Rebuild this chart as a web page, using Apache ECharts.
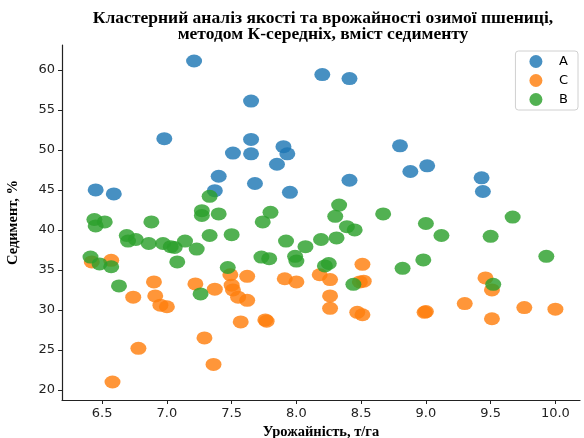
<!DOCTYPE html>
<html>
<head>
<meta charset="utf-8">
<script src="https://cdn.jsdelivr.net/npm/echarts@6/dist/echarts.min.js"></script>
<style>
  html, body { margin: 0; padding: 0; background: #fff; }
  #chart { width: 584px; height: 438px; }
</style>
</head>
<body>
<div id="chart"></div>
<script>
// cluster A (yield t/ha, sediment %)
var clusterA = [
  [7.21, 61.1], [8.20, 59.4], [8.41, 58.9], [7.65, 56.1], [6.98, 51.4],
  [7.65, 51.3], [7.51, 49.6], [7.65, 49.5], [7.90, 50.4], [7.93, 49.5],
  [7.85, 48.2], [7.40, 46.7], [7.68, 45.8], [6.45, 45.0], [6.59, 44.5],
  [7.37, 44.9], [7.95, 44.7], [8.41, 46.2], [8.80, 50.5], [8.88, 47.3],
  [9.01, 48.0], [9.43, 46.5], [9.44, 44.8]
];
// cluster C
var clusterC = [
  [6.42, 36.0], [6.57, 36.2], [6.90, 33.5], [6.74, 31.6], [6.91, 31.75],
  [6.95, 30.6], [7.00, 30.4], [7.22, 33.25], [7.37, 32.6], [7.49, 34.4],
  [7.62, 34.2], [7.50, 33.1], [7.51, 32.5], [7.55, 31.6], [7.62, 31.2],
  [7.57, 28.5], [7.76, 28.75], [7.77, 28.6], [7.29, 26.5], [6.78, 25.2],
  [7.36, 23.2], [6.58, 21.0], [7.91, 33.9], [8.00, 33.5], [8.18, 34.4],
  [8.26, 33.8], [8.51, 35.7], [8.49, 33.5], [8.52, 33.6], [8.26, 31.75],
  [8.26, 30.2], [8.47, 29.7], [8.51, 29.4], [8.99, 29.7], [9.00, 29.8],
  [9.30, 30.8], [9.46, 34.0], [9.51, 32.5], [9.51, 28.9], [9.76, 30.3],
  [10.00, 30.1]
];
// cluster B
var clusterB = [
  [7.33, 44.2], [6.44, 41.3], [6.52, 41.0], [6.45, 40.5], [6.88, 41.0],
  [6.69, 39.3], [6.70, 38.6], [6.76, 38.8], [6.86, 38.3], [6.97, 38.3],
  [7.03, 37.9], [7.06, 37.8], [7.14, 38.6], [7.23, 37.6], [7.33, 39.3],
  [7.50, 39.4], [7.27, 42.4], [7.27, 41.8], [7.40, 42.0], [7.08, 36.0],
  [6.41, 36.6], [6.48, 35.75], [6.57, 35.4], [7.47, 35.3], [7.74, 41.0],
  [7.80, 42.2], [7.92, 38.6], [8.07, 37.9], [7.73, 36.6], [7.79, 36.4],
  [7.99, 36.7], [8.00, 36.1], [8.19, 38.8], [8.31, 39.0], [8.33, 43.1],
  [8.30, 41.7], [8.67, 42.0], [8.39, 40.4], [8.45, 40.0], [9.00, 40.8],
  [9.12, 39.3], [9.67, 41.6], [9.50, 39.2], [8.98, 36.25], [8.82, 35.2],
  [9.93, 36.7], [8.22, 35.5], [8.25, 35.8], [8.44, 33.2], [9.52, 33.2],
  [6.63, 33.0], [7.26, 32.0]
];

var xTicks = [6.5, 7.0, 7.5, 8.0, 8.5, 9.0, 9.5, 10.0];
var yTicks = [20, 25, 30, 35, 40, 45, 50, 55, 60];

var myChart = echarts.init(document.getElementById('chart'));

var serif = "'Liberation Serif', 'DejaVu Serif', serif";
var sans = "'DejaVu Sans', sans-serif";

function pointSeries(name, data, color) {
  return {
    name: name,
    type: 'scatter',
    data: data,
    symbol: 'circle',
    symbolSize: [16, 13],
    itemStyle: { color: color, opacity: 0.82 },
    emphasis: { disabled: true }
  };
}

var option = {
  animation: false,
  title: {
    text: 'Кластерний аналіз якості та врожайності озимої пшениці,\nметодом К-середніх, вміст седименту',
    left: 318,
    top: 5,
    textAlign: 'center',
    textStyle: {
      fontFamily: serif,
      fontWeight: 'bold',
      fontSize: 17.5,
      lineHeight: 16,
      color: '#000'
    }
  },
  legend: {
    orient: 'vertical',
    right: 6,
    top: 51,
    data: ['A', 'C', 'B'],
    icon: 'circle',
    itemWidth: 16,
    itemHeight: 13,
    itemGap: 6,
    padding: [4, 10, 4, 14],
    borderColor: '#d0d0d0',
    borderWidth: 1,
    borderRadius: 3,
    textStyle: { fontFamily: sans, fontSize: 13, color: '#000', padding: [0, 0, 0, 10] }
  },
  grid: { left: 62, right: 4, top: 45, bottom: 38, outerBoundsMode: 'none', containLabel: false },
  xAxis: {
    type: 'value',
    min: 6.19,
    max: 10.19,
    name: 'Урожайність, т/га',
    nameLocation: 'middle',
    nameGap: 21,
    nameTextStyle: { fontFamily: serif, fontWeight: 'bold', fontSize: 14.5, color: '#000' },
    axisLine: { show: true, lineStyle: { color: '#222', width: 1.2 } },
    axisTick: { show: true, length: 4, customValues: xTicks, lineStyle: { color: '#222' } },
    axisLabel: {
      customValues: xTicks,
      margin: 7,
      fontFamily: sans,
      fontSize: 13,
      color: '#222',
      formatter: function (v) { return v.toFixed(1); }
    },
    splitLine: { show: false }
  },
  yAxis: {
    type: 'value',
    min: 18.75,
    max: 63.1,
    name: 'Седимент, %',
    nameLocation: 'middle',
    nameGap: 41,
    nameTextStyle: { fontFamily: serif, fontWeight: 'bold', fontSize: 14.5, color: '#000' },
    axisLine: { show: true, lineStyle: { color: '#222', width: 1.2 } },
    axisTick: { show: true, length: 4, customValues: yTicks, lineStyle: { color: '#222' } },
    axisLabel: {
      customValues: yTicks,
      margin: 7,
      fontFamily: sans,
      fontSize: 13,
      color: '#222'
    },
    splitLine: { show: false }
  },
  series: [
    pointSeries('A', clusterA, '#1f77b4'),
    pointSeries('C', clusterC, '#ff7f0e'),
    pointSeries('B', clusterB, '#2ca02c')
  ]
};

myChart.setOption(option);
</script>
</body>
</html>
